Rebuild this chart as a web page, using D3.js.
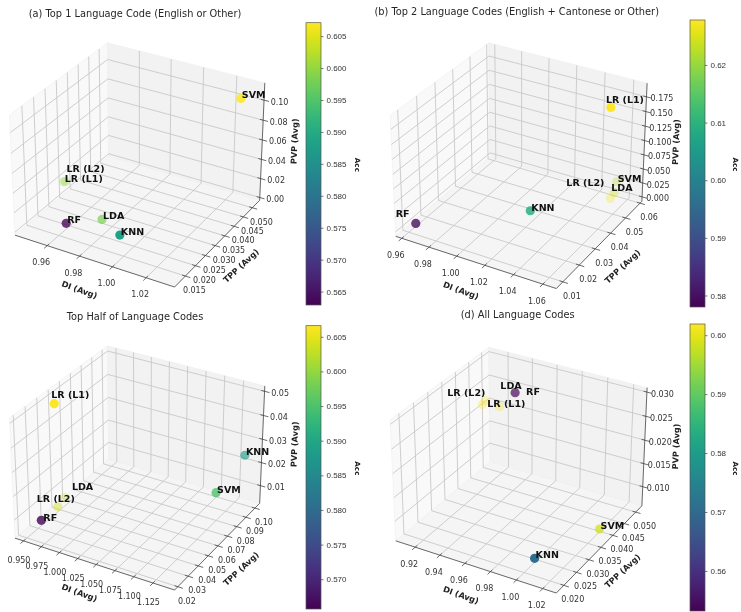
<!DOCTYPE html>
<html>
<head>
<meta charset="utf-8">
<script src="https://cdn.jsdelivr.net/npm/d3@7"></script>
<style>
  html, body { margin: 0; padding: 0; background: #fff; }
  svg { display: block; font-family: "DejaVu Sans", sans-serif; filter: blur(0.5px); }
</style>
</head>
<body>
<div id="chart"></div>
<script>
// models, same order in every panel
const models = ["LR (L1)", "LR (L2)", "LDA", "KNN", "RF", "SVM"];

// (a) Top 1
const diA  = [0.9424, 0.943, 0.9736, 0.9898, 0.959, 1.025];
const tppA = [0.0301, 0.0305, 0.025, 0.0211, 0.0191, 0.0521];
const pvpA = [0.015, 0.015, 0.001, 0.001, 0.001, 0.100];
const accA = [0.6, 0.6, 0.598, 0.588, 0.5629, 0.6071];
const diTicksA  = ["0.96", "0.98", "1.00", "1.02"];
const tppTicksA = ["0.015", "0.020", "0.025", "0.030", "0.035", "0.040", "0.045", "0.050"];
const pvpTicksA = ["0.00", "0.02", "0.04", "0.06", "0.08", "0.10"];
const accTicksA = [0.565, 0.57, 0.575, 0.58, 0.585, 0.59, 0.595, 0.6, 0.605];

// (b) Top 2
const diB  = [1.0537, 1.0523, 1.0546, 1.023, 0.961, 1.0534];
const tppB = [0.0526, 0.0556, 0.0559, 0.0303, 0.0131, 0.0586];
const pvpB = [0.167, 0.0, 0.011, 0.023, 0.0, 0.023];
const accB = [0.6278, 0.627, 0.624, 0.609, 0.578, 0.622];
const diTicksB  = ["0.96", "0.98", "1.00", "1.02", "1.04", "1.06"];
const tppTicksB = ["0.01", "0.02", "0.03", "0.04", "0.05", "0.06"];
const pvpTicksB = ["0.000", "0.025", "0.050", "0.075", "0.100", "0.125", "0.150", "0.175"];
const accTicksB = [0.58, 0.59, 0.6, 0.61, 0.62];

// top half
const diC  = [0.9478, 0.9485, 0.9447, 1.138, 0.9565, 1.1271];
const tppC = [0.0488, 0.0487, 0.0579, 0.0988, 0.0289, 0.0774];
const pvpC = [0.0476, 0.0039, 0.0039, 0.0243, 0.0068, 0.0155];
const accC = [0.6066, 0.604, 0.604, 0.588, 0.5657, 0.595];
const diTicksC  = ["0.950", "0.975", "1.000", "1.025", "1.050", "1.075", "1.100", "1.125"];
const tppTicksC = ["0.02", "0.03", "0.04", "0.05", "0.06", "0.07", "0.08", "0.09", "0.10"];
const pvpTicksC = ["0.01", "0.02", "0.03", "0.04", "0.05"];
const accTicksC = [0.57, 0.575, 0.58, 0.585, 0.59, 0.595, 0.6, 0.605];

// (d) All
const diD  = [0.9217, 0.9096, 0.9083, 1.004, 0.9474, 1.0246];
const tppD = [0.0484, 0.0474, 0.0492, 0.022, 0.0423, 0.0373];
const pvpD = [0.0213, 0.0213, 0.0213, 0.0081, 0.0286, 0.0081];
const accD = [0.6015, 0.6019, 0.601, 0.5707, 0.5532, 0.5985];
const diTicksD  = ["0.92", "0.94", "0.96", "0.98", "1.00", "1.02"];
const tppTicksD = ["0.020", "0.025", "0.030", "0.035", "0.040", "0.045", "0.050"];
const pvpTicksD = ["0.010", "0.015", "0.020", "0.025", "0.030"];
const accTicksD = [0.56, 0.57, 0.58, 0.59, 0.6];

const panels = [
  { title: "(a) Top 1 Language Code (English or Other)", titleX: 135, titleY: 16.5,
    cx: 139.5, cy: 159.3, s: 160,
    xDom: [0.9396, 1.0366], yDom: [0.0098, 0.0541], zDom: [-0.003, 0.117],
    di: diA, tpp: tppA, pvp: pvpA, acc: accA,
    xTicks: diTicksA, yTicks: tppTicksA, zTicks: pvpTicksA,
    accDom: [0.5629, 0.6071], accTicks: accTicksA, accFmt: ".3f",
    bar: [306, 22.7, 15, 282.3], accX: 358, xLabel: [-6, 19.5],
    nudge: { "LR (L2)": [1, -9] } },
  { title: "(b) Top 2 Language Codes (English + Cantonese or Other)", titleX: 516.7, titleY: 15,
    cx: 521, cy: 160, s: 161,
    xDom: [0.9555, 1.0691], yDom: [0.0061, 0.0613], zDom: [-0.008, 0.198],
    di: diB, tpp: tppB, pvp: pvpB, acc: accB,
    xTicks: diTicksB, yTicks: tppTicksB, zTicks: pvpTicksB,
    accDom: [0.578, 0.6278], accTicks: accTicksB, accFmt: ".2f",
    bar: [690, 20, 15, 287], accX: 736, xLabel: [-6, 19.5],
    nudge: { "LR (L1)": [-5, -5], "LR (L2)": [-44, -12], "LDA": [-3, -2], "RF": [-20, -6] } },
  { title: "Top Half of Language Codes", titleX: 135, titleY: 320,
    cx: 139.5, cy: 462.3, s: 160,
    xDom: [0.938, 1.1528], yDom: [0.0169, 0.1053], zDom: [0.0022, 0.0522],
    di: diC, tpp: tppC, pvp: pvpC, acc: accC,
    xTicks: diTicksC, yTicks: tppTicksC, zTicks: pvpTicksC,
    accDom: [0.5657, 0.6066], accTicks: accTicksC, accFmt: ".3f",
    bar: [306, 325.7, 15, 283.3], accX: 358, xLabel: [-4.5, 22],
    nudge: { "LR (L1)": [-3, -6], "LR (L2)": [-21, -5], "LDA": [7, -7.5], "RF": [2, 1] } },
  { title: "(d) All Language Codes", titleX: 517.7, titleY: 318,
    cx: 521, cy: 464.5, s: 161,
    xDom: [0.904, 1.0302], yDom: [0.0171, 0.0528], zDom: [0.0058, 0.0309],
    di: diD, tpp: tppD, pvp: pvpD, acc: accD,
    xTicks: diTicksD, yTicks: tppTicksD, zTicks: pvpTicksD,
    accDom: [0.5532, 0.6019], accTicks: accTicksD, accFmt: ".2f",
    bar: [690, 324, 15, 287], accX: 736, xLabel: [-6, 19.5],
    nudge: { "LR (L1)": [-12, 0], "LR (L2)": [-35, -9], "LDA": [15, -12], "RF": [11, 2] } }
];

// ---- 3D projection (elev 30, azim -60, box 4:4:3, like mplot3d) ----
const boxX = 1.1429, boxY = 1.1429, boxZ = 0.8571, dist = 10;

function project3d(ux, uy, uz, p) {
  const a = (ux - 0.5) * boxX;
  const b = (uy - 0.5) * boxY;
  const c = (uz - 0.5) * boxZ;
  const u = 0.866 * a + 0.5 * b;
  const v = -0.25 * a + 0.433 * b + 0.866 * c;
  const w = 0.433 * a - 0.75 * b + 0.5 * c;
  const f = dist / (dist - w);
  return { x: p.cx + p.s * u * f, y: p.cy - p.s * v * f, w };
}

const svg = d3.select("#chart").append("svg")
  .attr("width", 741)
  .attr("height", 612)
  .attr("viewBox", [0, 0, 741, 612]);

const defs = svg.append("defs");

const tickFont = 8;

function drawPanel(p, idx) {
  const g = svg.append("g");
  const sx = d3.scaleLinear(p.xDom, [0, 1]);
  const sy = d3.scaleLinear(p.yDom, [0, 1]);
  const sz = d3.scaleLinear(p.zDom, [0, 1]);
  const P = (x, y, z) => project3d(x, y, z, p);
  const path = pts => "M" + pts.map(q => `${q.x},${q.y}`).join("L");

  g.append("text")
    .attr("x", p.titleX).attr("y", p.titleY)
    .attr("text-anchor", "middle")
    .attr("font-size", 9.8)
    .attr("fill", "#262626")
    .text(p.title);

  // panes
  const panes = [
    { c: [[0,0,0],[0,1,0],[0,1,1],[0,0,1]], f: "#f9f9f9" },
    { c: [[0,1,0],[1,1,0],[1,1,1],[0,1,1]], f: "#f2f2f2" },
    { c: [[0,0,0],[1,0,0],[1,1,0],[0,1,0]], f: "#f5f5f5" }
  ];
  panes.forEach(d => {
    g.append("path")
      .attr("d", path(d.c.map(q => P(...q))) + "Z")
      .attr("fill", d.f)
      .attr("stroke", "#eeeeee")
      .attr("stroke-width", 0.6);
  });

  // grid
  const gridG = g.append("g").attr("fill", "none").attr("stroke", "#c8c8c8").attr("stroke-width", 0.9);
  p.xTicks.forEach(t => {
    const x = sx(+t);
    gridG.append("path").attr("d", path([P(x,0,0), P(x,1,0), P(x,1,1)]));
  });
  p.yTicks.forEach(t => {
    const y = sy(+t);
    gridG.append("path").attr("d", path([P(1,y,0), P(0,y,0), P(0,y,1)]));
  });
  p.zTicks.forEach(t => {
    const z = sz(+t);
    gridG.append("path").attr("d", path([P(0,0,z), P(0,1,z), P(1,1,z)]));
  });

  // axis lines
  const axisG = g.append("g").attr("fill", "none").attr("stroke", "#444").attr("stroke-width", 0.8);
  axisG.append("path").attr("d", path([P(0,0,0), P(1,0,0)]));
  axisG.append("path").attr("d", path([P(1,0,0), P(1,1,0)]));
  axisG.append("path").attr("d", path([P(1,1,0), P(1,1,1)]));

  // ticks + tick labels
  const labelG = g.append("g").attr("font-size", tickFont).attr("fill", "#333").attr("text-anchor", "middle");
  p.xTicks.forEach(t => {
    const x = sx(+t);
    axisG.append("path").attr("d", path([P(x,0.02,0), P(x,-0.03,0)]));
    const q = P(x, 0, 0);
    labelG.append("text").attr("x", q.x + p.xLabel[0]).attr("y", q.y + p.xLabel[1]).text(t);
  });
  p.yTicks.forEach(t => {
    const y = sy(+t);
    axisG.append("path").attr("d", path([P(0.98,y,0), P(1.03,y,0)]));
    const q = P(1, y, 0);
    labelG.append("text").attr("x", q.x + 9).attr("y", q.y + 17).text(t);
  });
  p.zTicks.forEach(t => {
    const z = sz(+t);
    axisG.append("path").attr("d", path([P(0.98,1,z), P(1.03,1,z)]));
    const q = P(1, 1, z);
    labelG.append("text").attr("x", q.x + 15.5).attr("y", q.y + 4.5).text(t);
  });

  // axis titles
  const axTitles = [
    { t: "DI (Avg)", dx: -60, dy: 130.5, r: 20 },
    { t: "TPP (Avg)", dx: 101.5, dy: 106.5, r: -43 },
    { t: "PVP (Avg)", dx: 155, dy: -18, r: -88 }
  ];
  axTitles.forEach(d => {
    g.append("text")
      .attr("transform", `translate(${p.cx + d.dx},${p.cy + d.dy}) rotate(${d.r})`)
      .attr("text-anchor", "middle")
      .attr("dy", "0.35em")
      .attr("font-size", 8.2)
      .attr("font-weight", 700)
      .attr("fill", "#222")
      .text(d.t);
  });

  // points, far ones first, faded by depth like depthshade
  const color = d3.scaleSequential(p.accDom, d3.interpolateViridis);
  const pts = models.map((name, i) => {
    const q = P(sx(p.di[i]), sy(p.tpp[i]), sz(p.pvp[i]));
    return { name, acc: p.acc[i], x: q.x, y: q.y, w: q.w };
  });
  const [wMin, wMax] = d3.extent(pts, d => d.w);
  const alpha = d3.scaleLinear([wMin, wMax], [0.3, 1]);
  pts.sort((a, b) => d3.ascending(a.w, b.w));

  g.append("g").selectAll("circle").data(pts).join("circle")
    .attr("cx", d => d.x)
    .attr("cy", d => d.y)
    .attr("r", 4.6)
    .attr("fill", d => color(d.acc))
    .attr("fill-opacity", d => alpha(d.w));

  g.append("g").selectAll("text").data(pts).join("text")
    .attr("x", d => d.x + (p.nudge[d.name] ? p.nudge[d.name][0] : 1))
    .attr("y", d => d.y + (p.nudge[d.name] ? p.nudge[d.name][1] : 0))
    .attr("font-size", 9.5)
    .attr("font-weight", 700)
    .attr("fill", "#111")
    .text(d => d.name);

  // colorbar
  const [bx, by, bw, bh] = p.bar;
  const gradId = `viridis-${idx}`;
  const grad = defs.append("linearGradient")
    .attr("id", gradId)
    .attr("x1", 0).attr("y1", 1).attr("x2", 0).attr("y2", 0);
  d3.range(0, 1.001, 0.05).forEach(t => {
    grad.append("stop").attr("offset", t).attr("stop-color", d3.interpolateViridis(t));
  });
  g.append("rect")
    .attr("x", bx).attr("y", by).attr("width", bw).attr("height", bh)
    .attr("fill", `url(#${gradId})`)
    .attr("stroke", "#555")
    .attr("stroke-width", 0.7);

  const barScale = d3.scaleLinear(p.accDom, [by + bh, by]);
  const barAxis = g.append("g")
    .attr("transform", `translate(${bx + bw},0)`)
    .call(d3.axisRight(barScale).tickValues(p.accTicks).tickFormat(d3.format(p.accFmt)).tickSize(2.5).tickPadding(3));
  barAxis.select(".domain").remove();
  barAxis.selectAll("text").attr("font-size", tickFont).attr("font-family", null).attr("fill", "#333");
  barAxis.selectAll("line").attr("stroke", "#444").attr("stroke-width", 0.7);

  g.append("text")
    .attr("transform", `translate(${p.accX},${by + bh / 2 + 1}) rotate(90)`)
    .attr("text-anchor", "middle")
    .attr("dy", "0.35em")
    .attr("font-size", 7.2)
    .attr("font-weight", 700)
    .attr("fill", "#222")
    .text("Acc");
}

panels.forEach(drawPanel);
</script>
</body>
</html>
